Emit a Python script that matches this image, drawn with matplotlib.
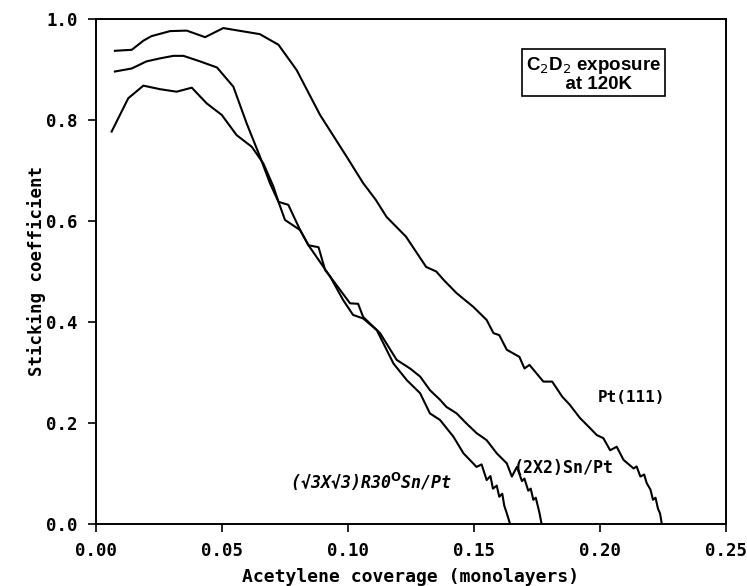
import matplotlib
matplotlib.use("Agg")
import matplotlib.pyplot as plt

# Pt(111)
pt_x = [0.0075, 0.0142, 0.0188, 0.0220, 0.0294, 0.0360, 0.0433, 0.0505, 0.0650, 0.0724,
        0.0796, 0.0889, 0.0995, 0.1060, 0.1110, 0.1153, 0.1230, 0.1310, 0.1350, 0.1380,
        0.1431, 0.1497, 0.1550, 0.1577, 0.1600, 0.1630, 0.1680, 0.1700, 0.1720, 0.1775,
        0.1810, 0.1850, 0.1880, 0.1920, 0.1960, 0.1987, 0.2013, 0.2040, 0.2066, 0.2093,
        0.2133, 0.2145, 0.2160, 0.2175, 0.2185, 0.2200, 0.2210, 0.2220, 0.2230, 0.2238,
        0.2245]
pt_y = [0.937, 0.939, 0.957, 0.966, 0.976, 0.977, 0.964, 0.982, 0.970, 0.949,
        0.899, 0.810, 0.727, 0.675, 0.642, 0.608, 0.569, 0.509, 0.500, 0.483,
        0.457, 0.430, 0.404, 0.378, 0.374, 0.345, 0.331, 0.308, 0.315, 0.282,
        0.282, 0.252, 0.236, 0.210, 0.190, 0.176, 0.170, 0.146, 0.153, 0.127,
        0.110, 0.114, 0.094, 0.098, 0.081, 0.068, 0.048, 0.052, 0.030, 0.021,
        0.000]

# (2X2)Sn/Pt
sn22_x = [0.0075, 0.0142, 0.0200, 0.0254, 0.0307, 0.0347, 0.0413, 0.0480, 0.0545, 0.0598,
          0.0651, 0.0690, 0.0724, 0.0763, 0.0810, 0.0843, 0.0883, 0.0909, 0.0929, 0.1008,
          0.1040, 0.1060, 0.1127, 0.1193, 0.1246, 0.1286, 0.1325, 0.1365, 0.1390, 0.1431,
          0.1470, 0.1510, 0.1550, 0.1590, 0.1630, 0.1650, 0.1670, 0.1690, 0.1700, 0.1715,
          0.1725, 0.1735, 0.1745, 0.1760, 0.1768]
sn22_y = [0.896, 0.902, 0.916, 0.922, 0.927, 0.927, 0.916, 0.904, 0.866, 0.793,
          0.727, 0.675, 0.638, 0.632, 0.582, 0.552, 0.548, 0.503, 0.490, 0.437,
          0.436, 0.410, 0.378, 0.325, 0.308, 0.292, 0.265, 0.246, 0.232, 0.219,
          0.199, 0.180, 0.166, 0.140, 0.120, 0.094, 0.113, 0.085, 0.090, 0.066,
          0.070, 0.048, 0.052, 0.021, 0.000]

# (sqrt3 X sqrt3)R30 Sn/Pt
sn3_x = [0.0062, 0.0128, 0.0188, 0.0254, 0.0320, 0.0380, 0.0439, 0.0499, 0.0558, 0.0618,
         0.0664, 0.0704, 0.0724, 0.0750, 0.0810, 0.0843, 0.0929, 0.0980, 0.1020, 0.1060,
         0.1114, 0.1180, 0.1233, 0.1286, 0.1325, 0.1365, 0.1418, 0.1458, 0.1510, 0.1530,
         0.1550, 0.1565, 0.1575, 0.1590, 0.1600, 0.1612, 0.1620, 0.1630, 0.1643]
sn3_y = [0.777, 0.843, 0.868, 0.861, 0.856, 0.864, 0.833, 0.810, 0.770, 0.747,
         0.714, 0.668, 0.638, 0.602, 0.582, 0.552, 0.490, 0.444, 0.414, 0.407,
         0.384, 0.318, 0.285, 0.259, 0.219, 0.206, 0.173, 0.140, 0.113, 0.118,
         0.087, 0.095, 0.070, 0.076, 0.054, 0.060, 0.036, 0.021, 0.000]

x_ticks = [0.00, 0.05, 0.10, 0.15, 0.20, 0.25]
y_ticks = [0.0, 0.2, 0.4, 0.6, 0.8, 1.0]

mono = "DejaVu Sans Mono"

fig = plt.figure(figsize=(7.47, 5.86), dpi=100)
ax = fig.add_axes([0.1285, 0.1058, 0.8435, 0.8618])

for xs, ys in [(pt_x, pt_y), (sn22_x, sn22_y), (sn3_x, sn3_y)]:
    ax.plot(xs, ys, color="black", lw=1.5)

ax.set_xlim(0, 0.25)
ax.set_ylim(0, 1.0)
ax.set_xticks(x_ticks)
ax.set_yticks(y_ticks)
ax.set_xticklabels([f"{v:.2f}" for v in x_ticks], fontfamily=mono,
                   fontweight="bold", fontsize=12.5)
ax.set_yticklabels([f"{v:.1f}" for v in y_ticks], fontfamily=mono,
                   fontweight="bold", fontsize=12.5)
ax.tick_params(direction="out", length=6, width=1.2, pad=7)
for s in ax.spines.values():
    s.set_linewidth(1.4)

ax.set_xlabel("Acetylene coverage (monolayers)", fontfamily=mono,
              fontweight="bold", fontsize=13, labelpad=6)
ax.set_ylabel("Sticking coefficient", fontfamily=mono,
              fontweight="bold", fontsize=12.5, labelpad=0)

ax.text(0.2125, 0.25, "Pt(111)", fontfamily=mono, fontweight="bold",
        fontsize=11.5, ha="center", va="center")
ax.text(0.1660, 0.11, "(2X2)Sn/Pt", fontfamily=mono, fontweight="bold",
        fontsize=12, ha="left", va="center")
ax.text(0.0770, 0.084, r"(√3X√3)R30$^{\mathbf{O}}$Sn/Pt", fontfamily=mono,
        fontweight="bold", fontstyle="italic", fontsize=12, ha="left", va="center")

ax.text(0.1974, 0.892, "C$_2$D$_2$ exposure\n  at 120K", fontfamily="Liberation Sans",
        fontweight="bold", fontsize=13.5, ha="center", va="center",
        multialignment="center", linespacing=1.0,
        bbox=dict(boxstyle="square,pad=0.2", fc="white", ec="black", lw=1.2))

fig.savefig("out.png", dpi=100)
